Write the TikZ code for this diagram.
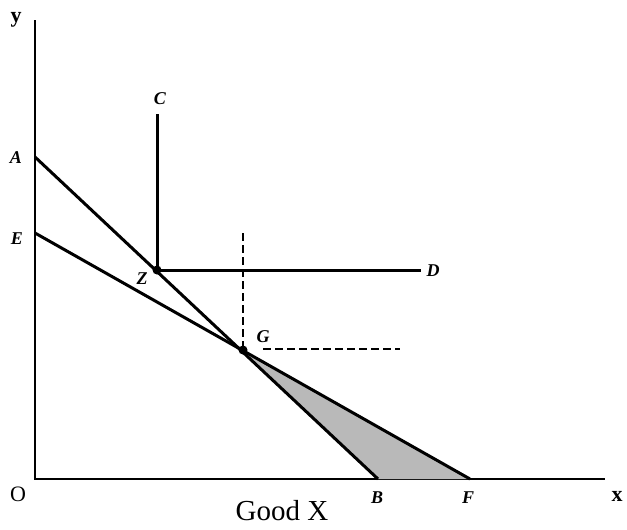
\documentclass[tikz,border=0pt]{standalone}
\usepackage{fontspec}
\setmainfont{Liberation Serif}
\begin{document}
\begin{tikzpicture}[x=1pt,y=-1pt,
  every node/.style={font=\bfseries\itshape\fontsize{18}{18}\selectfont},
  axis/.style={line width=2.6pt},
  budget/.style={line width=3pt},
  guide/.style={line width=2.4pt, dash pattern=on 8pt off 4pt}]
\useasboundingbox (0,0) rectangle (627,530);
% axes
\coordinate (O) at (35,479);
\coordinate (ytop) at (35,20);
\coordinate (xend) at (605,479);
\draw[axis] (ytop) -- (O) -- (xend);
\node[font=\bfseries\fontsize{22}{22}\selectfont] (ylab) at (16,20) {y};
\node[font=\bfseries\fontsize{22}{22}\selectfont] (xlab) at (617,496) {x};
\node[font=\fontsize{22}{22}\selectfont] (olab) at (18,494) {O};
\node[font=\fontsize{29}{29}\selectfont] (goodx) at (282,511) {Good X};
% points
\coordinate (A) at (35,157);
\coordinate (E) at (35,233);
\coordinate (B) at (378,479);
\coordinate (F) at (470,479);
\coordinate (Z) at (157,270);
\coordinate (G) at (243,350);
\coordinate (C) at (157,114);
\coordinate (D) at (421,270);
\coordinate (Gup) at (243,233);
\coordinate (Gright) at (400,349);
% shaded gain
\fill[gray!55] (G) -- (B) -- (F) -- cycle;
% budget lines
\draw[budget] (A) -- (B);
\draw[budget] (E) -- (F);
\draw[budget] (C) -- (Z) -- (D);
\draw[guide] (Gup) -- (G);
\draw[guide] (G) ++(20,-1) -- (Gright);
\fill (Z) circle (4.5pt);
\fill (G) circle (4.5pt);
% labels
\node (alab) at (16,158) {A};
\node (elab) at (17,239) {E};
\node (clab) at (160,99) {C};
\node (zlab) at (142,279) {Z};
\node (dlab) at (433,271) {D};
\node (glab) at (263,337) {G};
\node (blab) at (377,498) {B};
\node (flab) at (468,498) {F};
\end{tikzpicture}
\end{document}
